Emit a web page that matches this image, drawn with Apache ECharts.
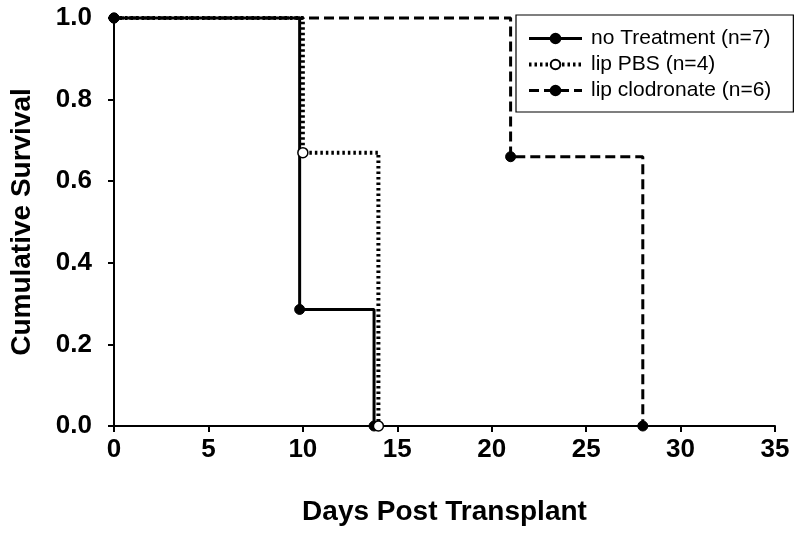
<!DOCTYPE html>
<html>
<head>
<meta charset="utf-8">
<script src="https://cdn.jsdelivr.net/npm/echarts@6/dist/echarts.min.js"></script>
<style>html,body{margin:0;padding:0;background:#fff}#c{width:800px;height:535px}</style>
</head>
<body>
<div id="c"></div>
<script>
const seriesNames = ['no Treatment (n=7)', 'lip PBS (n=4)', 'lip clodronate (n=6)'];
const noTreatmentDays = [0, 9.83, 13.77];
const noTreatmentSurv = [1.0, 0.2857, 0];
const pbsDays = [0, 10, 14];
const pbsSurv = [1.0, 0.67, 0];
const clodronateDays = [0, 21, 28];
const clodronateSurv = [1.0, 0.66, 0];
const xTicks = [0, 5, 10, 15, 20, 25, 30, 35];
const yTicks = [0, 0.2, 0.4, 0.6, 0.8, 1.0];

const FONT = "'Liberation Sans', Arial, sans-serif";
const pairs = (xs, ys) => xs.map((x, i) => [x, ys[i]]);
const DOT = [2.5, 3];

const chart = echarts.init(document.getElementById('c'), null, {renderer: 'canvas'});
chart.setOption({
  animation: false,
  backgroundColor: '#fff',
  grid: {left: 110, right: 25, top: 18, bottom: 109, containLabel: false},
  legend: {
    orient: 'vertical',
    left: 516, top: 15,
    padding: [12, 22, 10, 11],
    itemWidth: 53, itemHeight: 12, itemGap: 3,
    borderColor: '#000', borderWidth: 1.2,
    backgroundColor: '#fff',
    lineStyle: {width: 3},
    textStyle: {fontFamily: FONT, fontSize: 21, color: '#000', lineHeight: 23, padding: [0, 0, 0, 4]},
    data: [
      {name: seriesNames[0], lineStyle: {width: 3, type: 'solid'}},
      {name: seriesNames[1], lineStyle: {width: 4, type: DOT}},
      {name: seriesNames[2], lineStyle: {width: 3, type: [10, 5]}}
    ]
  },
  xAxis: {
    type: 'value', min: xTicks[0], max: xTicks[xTicks.length - 1], interval: 5,
    name: 'Days Post Transplant', nameLocation: 'middle', nameGap: 72,
    nameTextStyle: {fontFamily: FONT, fontSize: 28, fontWeight: 'bold', color: '#000'},
    axisLine: {lineStyle: {color: '#000', width: 2}},
    axisTick: {show: true, inside: false, length: 6, lineStyle: {color: '#000', width: 2}},
    axisLabel: {fontFamily: FONT, fontSize: 26, fontWeight: 'bold', color: '#000', margin: 11},
    splitLine: {show: false}
  },
  yAxis: {
    type: 'value', min: yTicks[0], max: yTicks[yTicks.length - 1], interval: 0.2,
    name: 'Cumulative Survival', nameLocation: 'middle', nameGap: 78, nameRotate: 90,
    nameTextStyle: {fontFamily: FONT, fontSize: 28, fontWeight: 'bold', color: '#000'},
    axisLine: {show: true, lineStyle: {color: '#000', width: 2}},
    axisTick: {show: true, inside: false, length: 6, lineStyle: {color: '#000', width: 2}},
    axisLabel: {fontFamily: FONT, fontSize: 26, fontWeight: 'bold', color: '#000', margin: 22,
      formatter: v => v.toFixed(1)},
    splitLine: {show: false}
  },
  series: [
    {
      name: seriesNames[0], type: 'line', step: 'end', clip: false, z: 2,
      data: pairs(noTreatmentDays, noTreatmentSurv),
      symbol: 'circle', symbolSize: 10, showSymbol: true,
      lineStyle: {color: '#000', width: 3, type: 'solid'},
      itemStyle: {color: '#000', borderColor: '#000', borderWidth: 1}
    },
    {
      name: seriesNames[2], type: 'line', step: 'end', clip: false, z: 2,
      data: pairs(clodronateDays, clodronateSurv),
      symbol: 'circle', symbolSize: 10, showSymbol: true,
      lineStyle: {color: '#000', width: 3, type: [10, 5]},
      itemStyle: {color: '#000', borderColor: '#000', borderWidth: 1}
    },
    {
      name: seriesNames[1], type: 'line', step: 'end', clip: false, z: 3,
      data: pairs(pbsDays, pbsSurv).map((p, i) => i === 0 ? {value: p, symbol: 'none'} : p),
      symbol: 'circle', symbolSize: 10, showSymbol: true,
      lineStyle: {color: '#000', width: 4, type: DOT},
      itemStyle: {color: '#fff', borderColor: '#000', borderWidth: 1.5}
    }
  ]
});
</script>
</body>
</html>
